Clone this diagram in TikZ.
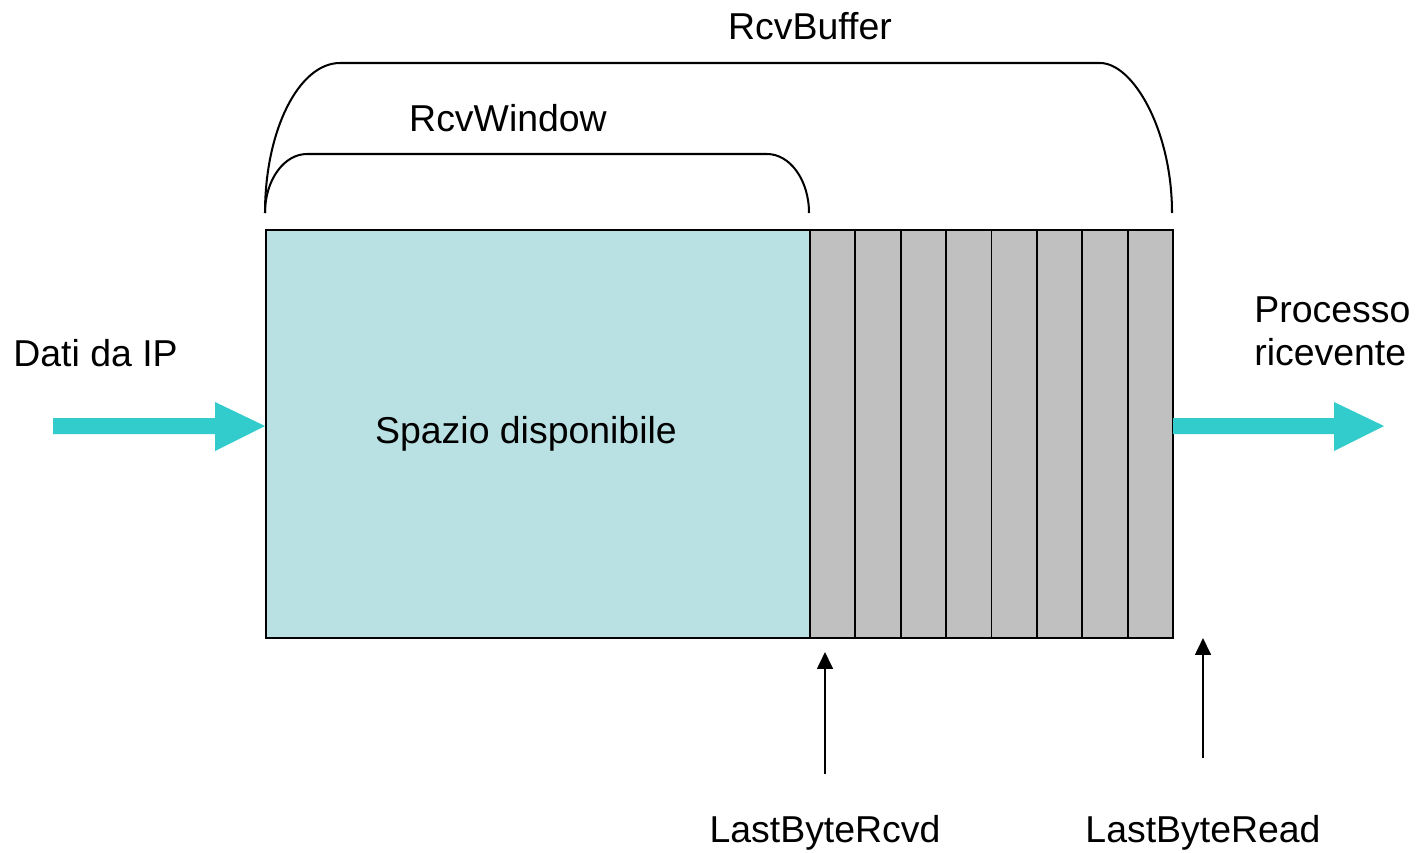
\documentclass[tikz,border=0pt]{standalone}
\usepackage{fontspec}
\setmainfont{Liberation Sans}
\usetikzlibrary{arrows.meta}
\definecolor{winblue}{HTML}{B9E0E3}
\definecolor{cellgray}{HTML}{C0C0C0}
\definecolor{flowcyan}{HTML}{33CCCC}
\begin{document}
\begin{tikzpicture}[x=0.02cm,y=-0.02cm,
  lbl/.style={inner sep=0pt,font=\fontsize{21.3}{24.4}\selectfont},
  bufbox/.style={draw=black,line width=1.1pt,inner sep=0pt,minimum height=8.16cm,anchor=north west},
  cellbox/.style={bufbox,fill=cellgray,minimum width=0.9075cm},
  brace/.style={draw=black,line width=1.15pt},
  ptr/.style={draw=black,line width=1.1pt,-{Triangle[length=9.6pt,width=9pt]}},
  flow/.style={fill=flowcyan}]
\useasboundingbox (0,0) rectangle (1416,852);
% buffer
\node[bufbox,fill=winblue,minimum width=10.88cm] (free) at (265,229) {};
\foreach \i in {0,...,7}{
  \node[cellbox] (c\i) at ({809+\i*45.375},229) {};
}
% braces
\path[brace] (265,213) .. controls (265,130) and (299,63) .. (340,63)
  -- (1100,63) .. controls (1133,63) and (1172,130) .. (1172,213);
\path[brace] (265,213) .. controls (265,180) and (284,154) .. (307,154)
  -- (767,154) .. controls (790,154) and (809,180) .. (809,213);
% labels
\node[lbl,anchor=base] (rbuf) at (810,39) {RcvBuffer};
\node[lbl,anchor=base] (rwin) at (508,131) {RcvWindow};
\node[lbl,anchor=base] (spazio) at (526,443) {Spazio disponibile};
\node[lbl,anchor=base west] (dati) at (13,366) {Dati da IP};
\node[lbl,anchor=base west] (proc1) at (1254,322) {Processo};
\node[lbl,anchor=base west] (proc2) at (1254,365) {ricevente};
\node[lbl,anchor=base] (lbr) at (825,842) {LastByteRcvd};
\node[lbl,anchor=base] (lbread) at (1203,842) {LastByteRead};
% cyan arrows
\fill[flow] (53,418) -- (215,418) -- (215,402) -- (265,426) -- (215,451) -- (215,434) -- (53,434) -- cycle;
\fill[flow] (1173,418) -- (1334,418) -- (1334,402) -- (1384,426) -- (1334,451) -- (1334,434) -- (1173,434) -- cycle;
% pointer arrows
\coordinate (p1s) at (825,774);
\coordinate (p1e) at (825,652);
\coordinate (p2s) at (1203,758);
\coordinate (p2e) at (1203,638);
\draw[ptr] (p1s) -- (p1e);
\draw[ptr] (p2s) -- (p2e);
\end{tikzpicture}
\end{document}
